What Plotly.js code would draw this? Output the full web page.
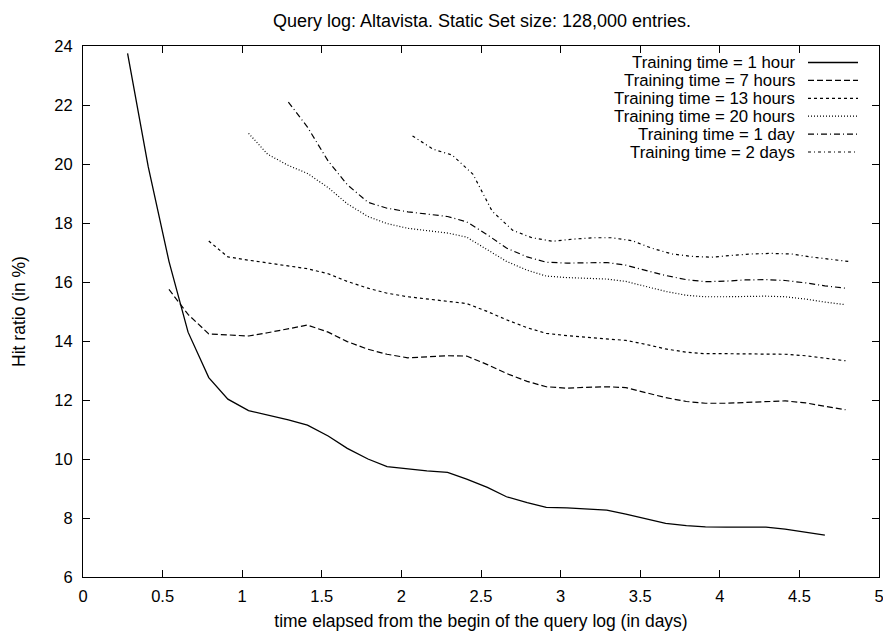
<!DOCTYPE html>
<html>
<head>
<meta charset="utf-8">
<script src="https://cdn.plot.ly/plotly-3.0.1.min.js"></script>
<style>html,body{margin:0;padding:0;background:#fff}#chart{width:883px;height:631px}</style>
</head>
<body>
<div id="chart"></div>
<script>
// ---- data ----
const seriesNames = ["Training time = 1 hour","Training time = 7 hours","Training time = 13 hours","Training time = 20 hours","Training time = 1 day","Training time = 2 days"];

const x1h = [0.28,0.41,0.54,0.66,0.79,0.91,1.04,1.16,1.29,1.41,1.54,1.66,1.79,1.91,2.04,2.16,2.29,2.41,2.54,2.66,2.79,2.91,3.04,3.16,3.29,3.41,3.54,3.66,3.79,3.91,4.04,4.16,4.29,4.41,4.54,4.66];
const y1h = [23.75,19.9,16.7,14.3,12.76,12.03,11.64,11.5,11.33,11.15,10.78,10.36,10.0,9.74,9.66,9.6,9.55,9.32,9.04,8.72,8.52,8.36,8.34,8.31,8.27,8.13,7.98,7.82,7.74,7.7,7.69,7.69,7.69,7.62,7.52,7.42];

const x7h = [0.54,0.66,0.79,0.91,1.04,1.16,1.29,1.41,1.54,1.66,1.79,1.91,2.04,2.16,2.29,2.41,2.54,2.66,2.79,2.91,3.04,3.16,3.29,3.41,3.54,3.66,3.79,3.91,4.04,4.16,4.29,4.41,4.54,4.66,4.79];
const y7h = [15.75,14.9,14.24,14.2,14.17,14.28,14.42,14.54,14.3,13.98,13.72,13.55,13.43,13.46,13.5,13.49,13.2,12.9,12.63,12.45,12.4,12.43,12.45,12.42,12.25,12.08,11.95,11.89,11.89,11.92,11.96,11.97,11.9,11.78,11.67];

const x13h = [0.79,0.91,1.04,1.16,1.29,1.41,1.54,1.66,1.79,1.91,2.04,2.16,2.29,2.41,2.54,2.66,2.79,2.91,3.04,3.16,3.29,3.41,3.54,3.66,3.79,3.91,4.04,4.16,4.29,4.41,4.54,4.66,4.79];
const y13h = [17.39,16.85,16.74,16.64,16.55,16.45,16.28,16.02,15.79,15.62,15.5,15.43,15.35,15.27,15.0,14.72,14.45,14.26,14.18,14.12,14.08,14.02,13.88,13.73,13.62,13.57,13.57,13.56,13.56,13.55,13.5,13.42,13.33];

const x20h = [1.04,1.16,1.29,1.41,1.54,1.66,1.79,1.91,2.04,2.16,2.29,2.41,2.54,2.66,2.79,2.91,3.04,3.16,3.29,3.41,3.54,3.66,3.79,3.91,4.04,4.16,4.29,4.41,4.54,4.66,4.79];
const y20h = [21.04,20.33,19.95,19.68,19.2,18.65,18.22,17.98,17.82,17.74,17.66,17.52,17.1,16.7,16.4,16.2,16.15,16.13,16.1,16.02,15.85,15.68,15.55,15.5,15.5,15.52,15.52,15.5,15.42,15.32,15.23];

const x1d = [1.29,1.41,1.54,1.66,1.79,1.91,2.04,2.16,2.29,2.41,2.54,2.66,2.79,2.91,3.04,3.16,3.29,3.41,3.54,3.66,3.79,3.91,4.04,4.16,4.29,4.41,4.54,4.66,4.79];
const y1d = [22.1,21.25,20.1,19.3,18.7,18.5,18.38,18.3,18.22,18.04,17.6,17.15,16.85,16.67,16.64,16.65,16.66,16.57,16.4,16.22,16.08,16.01,16.03,16.07,16.08,16.05,15.97,15.87,15.79];

const x2d = [2.07,2.2,2.32,2.45,2.57,2.7,2.82,2.95,3.07,3.2,3.32,3.45,3.57,3.7,3.82,3.95,4.07,4.2,4.32,4.45,4.57,4.7,4.82];
const y2d = [20.95,20.5,20.3,19.65,18.4,17.75,17.5,17.38,17.45,17.5,17.5,17.4,17.15,16.95,16.87,16.84,16.9,16.95,16.97,16.95,16.85,16.76,16.69];

const xTickVals = [0,0.5,1,1.5,2,2.5,3,3.5,4,4.5,5];
const xTickText = ["0","0.5","1","1.5","2","2.5","3","3.5","4","4.5","5"];
const yTickVals = [6,8,10,12,14,16,18,20,22,24];
const yTickText = ["6","8","10","12","14","16","18","20","22","24"];

// ---- styling ----
const dashes = ["solid","6px,3px","3px,3px","1px,2px","6px,3px,1px,3px","3px,3px,1px,3px"];
const widths = [1.3,1.2,1.2,1.2,1.2,1.2];
const xs = [x1h,x7h,x13h,x20h,x1d,x2d];
const ys = [y1h,y7h,y13h,y20h,y1d,y2d];
const FONT = "Liberation Sans, Arial, Helvetica, sans-serif";

const traces = xs.map((x,i)=>({
  x:x, y:ys[i], type:"scatter", mode:"lines", name:seriesNames[i],
  line:{color:"#000", width:widths[i], dash:dashes[i]}, showlegend:false
}));

// custom gnuplot-style key: text right-aligned, sample line to the right
const annotations = [];
const shapes = [];
const W=883,H=631,L=83,R=4,T=46,B=54;
const pw=W-L-R, ph=H-T-B;
const rowY=[62.5,80.4,98.3,116.2,134.1,152.0];
seriesNames.forEach((n,i)=>{
  const py = 1-(rowY[i]-T)/ph;
  annotations.push({xref:"paper",yref:"paper",x:(797-L)/pw,y:py,xanchor:"right",yanchor:"middle",
    text:n,showarrow:false,font:{family:FONT,size:16.8,color:"#000"}});
  shapes.push({type:"line",xref:"paper",yref:"paper",x0:(808-L)/pw,x1:(858-L)/pw,y0:py,y1:py,
    line:{color:"#000",width:widths[i],dash:dashes[i]}});
});

const layout = {
  width:W, height:H,
  margin:{l:L,r:R,t:T,b:B,pad:0},
  paper_bgcolor:"#fff", plot_bgcolor:"#fff",
  font:{family:FONT,size:16.5,color:"#000"},
  title:{text:"Query log: Altavista. Static Set size: 128,000 entries.",x:(482)/W,xanchor:"center",y:1-21/H,yanchor:"middle",font:{family:FONT,size:18}},
  xaxis:{range:[0,5],tickvals:xTickVals,ticktext:xTickText,ticks:"inside",ticklen:7,tickcolor:"#000",
    showline:true,linecolor:"#000",linewidth:1,mirror:"ticks",showgrid:false,zeroline:false,
    ticklabelstandoff:4, ticklabeloverflow:"allow",
    title:{text:"time elapsed from the begin of the query log (in days)",standoff:12,font:{family:FONT,size:17.5}}},
  yaxis:{range:[6,24],tickvals:yTickVals,ticktext:yTickText,ticks:"inside",ticklen:7,tickcolor:"#000",
    showline:true,linecolor:"#000",linewidth:1,mirror:"ticks",showgrid:false,zeroline:false,
    ticklabelstandoff:6,
    title:{text:"Hit ratio (in %)",standoff:24,font:{family:FONT,size:17.5}}},
  annotations:annotations, shapes:shapes,
  showlegend:false, hovermode:false
};

Plotly.newPlot("chart",traces,layout,{displayModeBar:false,staticPlot:true});
</script>
</body>
</html>
